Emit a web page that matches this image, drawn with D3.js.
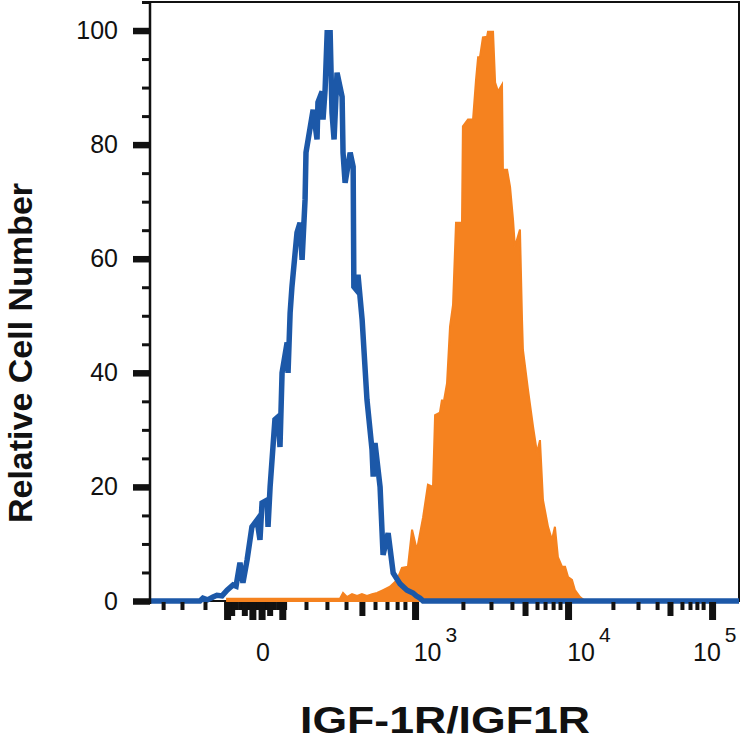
<!DOCTYPE html>
<html>
<head>
<meta charset="utf-8">
<script src="https://cdn.jsdelivr.net/npm/d3@7"></script>
<style>
  body { margin: 0; background: #fff; }
  svg { display: block; }
  text { font-family: "Liberation Sans", Arial, sans-serif; fill: #111; }
</style>
</head>
<body>
<svg id="chart" width="742" height="746"></svg>
<script>
// histogram channels (0..256 display channels) and relative counts
const blueCh = [0, 21.7, 23, 25, 27.4, 29.1, 31.3, 33.5, 36.1, 37.4, 39.1, 40.4, 42.2, 44.3, 46.5, 47.8, 48.7, 50.9, 51.3, 52.2,
  54.3, 55.7, 56.5, 57.4, 59.6, 60.0, 60.9, 61.7, 63.9, 65.2, 66.1, 67.4, 67.8, 70.9, 72.6, 73.0, 74.8, 75.2, 76.1, 77.0,
  78.3, 79.1, 80.0, 81.3, 83.5, 83.9, 84.8, 87.0, 88.3, 88.6, 89.6, 90.4, 92.2, 94.3, 96.5, 97.0, 97.8, 100, 101.3, 103.5,
  105.7, 108.7, 111.7, 114.3, 115.7, 117.4, 118.7, 256]
const blueCount = [0, 0, 0.5, 0.2, 0.7, 1.0, 0.9, 1.9, 2.8, 2.6, 6.7, 3.2, 7.2, 13.0, 14.2, 10.7, 17.2, 17.7, 13.0, 20.0,
  31.8, 32.3, 27.0, 40.0, 45.3, 40.0, 50.5, 55.1, 64.6, 66.3, 59.8, 70.4, 78.6, 86.1, 80.9, 87.4, 89.3, 84.4, 89.6, 99.6,
  99.6, 85.6, 80.9, 92.6, 88.4, 78.6, 73.3, 78.6, 76.1, 55.1, 54.6, 57.2, 49.3, 35.3, 26.5, 21.8, 27.7, 20.0, 8.1, 11.9,
  4.9, 3.0, 1.9, 1.4, 0.9, 0.5, 0, 0]

const orangeCh = [33.5, 65.2, 82.6, 83.9, 85.6, 87.8, 90.0, 92.1, 94.3, 96.5, 98.7, 101.3, 104.3, 107.4, 109.5, 112.1, 113.9,
  116.0, 118.7, 120.8, 123.0, 123.9, 126.0, 126.9, 127.3, 129.1, 130.4, 131.7, 133.0, 135.6, 136.0, 138.2, 140.4, 141.7,
  142.6, 143.4, 144.7, 146.5, 146.9, 149.1, 150.0, 151.3, 153.0, 153.4, 155.2, 156.5, 157.8, 158.6, 160.8, 161.7, 162.1,
  164.3, 166.5, 168.2, 169.5, 170.8, 173.0, 174.7, 176.0, 177.3, 179.1, 180.4, 181.7, 183.4, 184.7, 186.9, 189.1]
const orangeCount = [0.4, 0.4, 0.45, 1.4, 0.7, 1.2, 0.9, 1.2, 0.9, 1.2, 1.4, 1.9, 2.5, 3.7, 5.8, 6.0, 12.5,
  8.9, 14.7, 20.4, 20.0, 32.6, 33.0, 35.3, 34.0, 38.2, 48.1, 51.9, 66.3, 66.3, 83.2, 84.4, 84.4, 91.4,
  95.3, 95.3, 98.8, 98.9, 99.8, 99.8, 90.9, 89.3, 90.5, 75.6, 75.6, 72.6, 66.8, 62.1, 65.1, 49.3, 44.0,
  37.0, 30.5, 26.0, 28.2, 17.7, 13.0, 10.7, 13.0, 7.7, 6.0, 6.0, 4.2, 3.7, 1.9, 0.7, 0]

// y axis
const yMajor = [0, 20, 40, 60, 80, 100]
const yMinor = [5, 10, 15, 25, 30, 35, 45, 50, 55, 65, 70, 75, 85, 90, 95, 105]

// x axis ticks, in display channels
const xSmall = [5.7, 13.9, 23.9, 33.0, 34.5, 36.0, 37.5, 39.0, 40.5, 42.0, 43.5, 45.0, 46.5, 48.0, 49.5, 51.0, 52.5,
  54.0, 55.5, 57.0, 58.5, 67.8, 76.9, 85.2, 97.8, 103.0, 107.4, 110.8,
  136.0, 148.2, 157.3, 168.2, 171.7, 175.2, 178.2, 201.2, 212.1, 220.4, 231.2, 234.7, 237.7, 240.4]
const xMedium = [35.5, 41.0, 52.0, 92.1, 163.0, 226.0]
const xBig = [33.5, 44.5, 48.5, 57.5, 115.2, 181.7, 244.3]
const xLabels = [
  { ch: 49.1, base: "0", exp: "" },
  { ch: 114.6, base: "10", exp: "3" },
  { ch: 181.3, base: "10", exp: "4" },
  { ch: 236.0, base: "10", exp: "5" }
]

const blueColor = "#1c58a8"
const orangeColor = "#f5821f"

const svg = d3.select("#chart")

const x = d3.scaleLinear().domain([0, 256]).range([150, 739])
const y = d3.scaleLinear().domain([0, 105]).range([601, 2])

// frame
svg.append("rect")
  .attr("x", 150).attr("y", 2)
  .attr("width", 589).attr("height", 599)
  .attr("fill", "none")
  .attr("stroke", "#111")
  .attr("stroke-width", 2)

// orange filled histogram
const orange = orangeCh.map((c, i) => [c, orangeCount[i]])
svg.append("path")
  .datum(orange)
  .attr("d", d3.area().x(d => x(d[0])).y0(y(0)).y1(d => y(d[1])))
  .attr("fill", orangeColor)
  .attr("stroke", orangeColor)
  .attr("stroke-width", 2)

// blue outline histogram
const blue = blueCh.map((c, i) => [c, blueCount[i]])
svg.append("path")
  .datum(blue)
  .attr("d", d3.line().x(d => x(d[0])).y(d => y(d[1])))
  .attr("fill", "none")
  .attr("stroke", blueColor)
  .attr("stroke-width", 5.5)
  .attr("stroke-linejoin", "miter")

// y axis: minor then major ticks
const yMinorAxis = svg.append("g")
  .attr("transform", "translate(150,0)")
  .call(d3.axisLeft(y).tickValues(yMinor).tickSize(8).tickFormat(""))
yMinorAxis.select(".domain").remove()
yMinorAxis.selectAll("line").attr("stroke", "#111").attr("stroke-width", 3)

const yMajorAxis = svg.append("g")
  .attr("transform", "translate(150,0)")
  .call(d3.axisLeft(y).tickValues(yMajor).tickSize(17).tickPadding(15))
yMajorAxis.select(".domain").remove()
yMajorAxis.selectAll("line").attr("stroke", "#111").attr("stroke-width", 6.5)
yMajorAxis.selectAll("text")
  .style("font-size", "25px")
  .style("font-family", "'Liberation Sans', Arial, sans-serif")
  .attr("fill", "#111")

svg.append("line")
  .attr("x1", 150).attr("x2", 150)
  .attr("y1", 1).attr("y2", 604)
  .attr("stroke", "#111").attr("stroke-width", 2.5)

// x axis ticks, three sizes
function xTicks(vals, size, width) {
  const g = svg.append("g")
    .attr("transform", "translate(0,602)")
    .call(d3.axisBottom(x).tickValues(vals).tickSize(size).tickFormat(""))
  g.select(".domain").remove()
  g.selectAll("line").attr("stroke", "#111").attr("stroke-width", width)
}
xTicks(xSmall, 8, 4)
xTicks(xMedium, 14, 6)
xTicks(xBig, 18, 7)

// x tick labels
const lab = svg.append("g").selectAll("text")
  .data(xLabels)
  .join("text")
  .attr("x", d => x(d.ch))
  .attr("y", 661)
  .attr("text-anchor", d => d.exp ? "start" : "middle")
  .style("font-size", "25px")
lab.append("tspan").text(d => d.base)
lab.append("tspan")
  .attr("dx", 4).attr("dy", -19)
  .style("font-size", "21px")
  .text(d => d.exp)

// axis titles
svg.append("text")
  .attr("x", 445).attr("y", 733)
  .attr("text-anchor", "middle")
  .attr("textLength", 290)
  .attr("lengthAdjust", "spacingAndGlyphs")
  .style("font-size", "36px")
  .style("font-weight", "bold")
  .text("IGF-1R/IGF1R")

svg.append("text")
  .attr("transform", "translate(32,353) rotate(-90)")
  .attr("text-anchor", "middle")
  .style("font-size", "34px")
  .style("font-weight", "bold")
  .text("Relative Cell Number")
</script>
</body>
</html>
